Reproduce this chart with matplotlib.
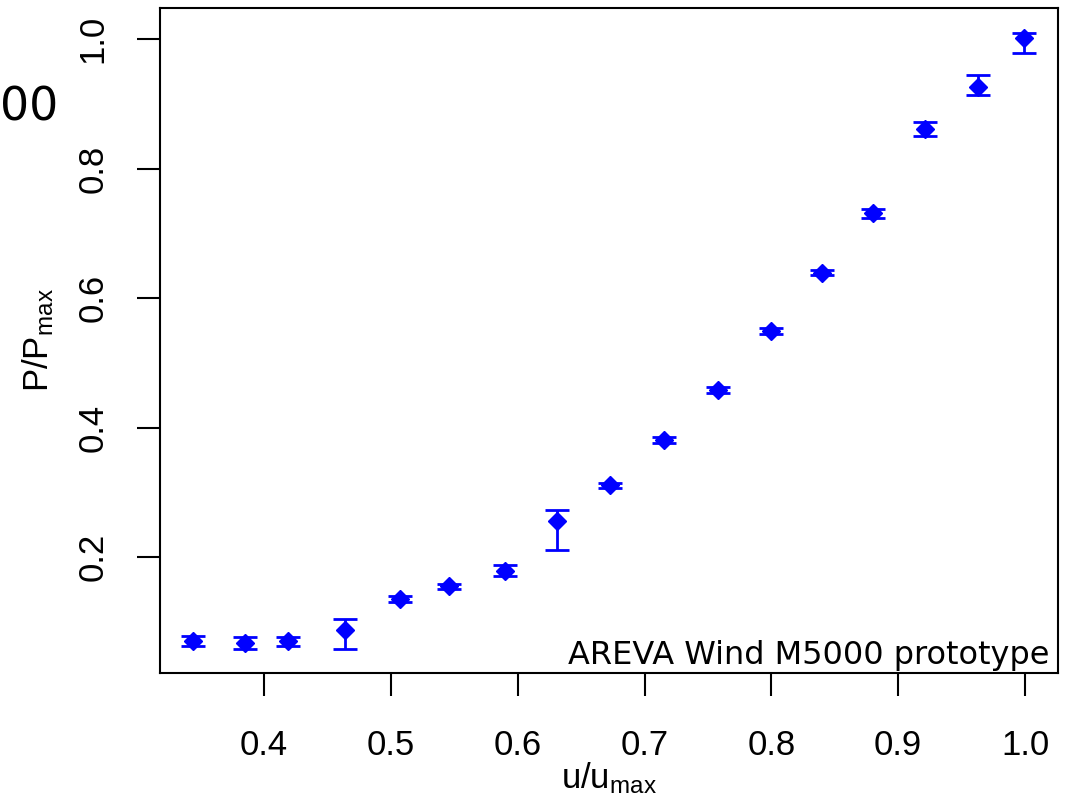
import matplotlib
matplotlib.use("Agg")
import matplotlib.pyplot as plt
import numpy as np

# Data
u_ratio = [0.344, 0.385, 0.419, 0.464, 0.507, 0.546, 0.590, 0.631, 0.673,
           0.715, 0.758, 0.800, 0.840, 0.880, 0.921, 0.963, 0.999]
p_ratio = [0.070, 0.067, 0.070, 0.087, 0.135, 0.155, 0.178, 0.256, 0.311,
           0.381, 0.458, 0.549, 0.639, 0.731, 0.861, 0.926, 1.002]
err_low = [0.008, 0.009, 0.007, 0.029, 0.004, 0.004, 0.008, 0.045, 0.004,
           0.005, 0.004, 0.004, 0.004, 0.007, 0.011, 0.012, 0.024]
err_high = [0.008, 0.009, 0.007, 0.017, 0.004, 0.004, 0.009, 0.017, 0.004,
            0.005, 0.004, 0.004, 0.004, 0.007, 0.011, 0.019, 0.007]
x_ticks = [0.4, 0.5, 0.6, 0.7, 0.8, 0.9, 1.0]
y_ticks = [0.2, 0.4, 0.6, 0.8, 1.0]

plt.rcParams['mathtext.fontset'] = 'custom'
plt.rcParams['mathtext.rm'] = 'Liberation Sans'
plt.rcParams['mathtext.it'] = 'Liberation Sans'

fig = plt.figure(figsize=(10.7, 8.08), dpi=100)
ax = fig.add_axes([160/1070, 1 - 673/808, (1058-160)/1070, (673-8)/808])

ax.errorbar(u_ratio, p_ratio, yerr=[err_low, err_high], fmt='D', color='#0000ff',
            markersize=9, ecolor='#0000ff', elinewidth=2, capsize=8.5, capthick=2)

ax.set_xlim(0.318, 1.026)
ax.set_ylim(0.0208, 1.048)
ax.set_xticks(x_ticks)
ax.set_xticklabels([f"{v:.1f}" for v in x_ticks])
ax.set_yticks(y_ticks)
ax.set_yticklabels([f"{v:.1f}" for v in y_ticks], rotation=90, va='center')

for s in ax.spines.values():
    s.set_linewidth(1.5)
    s.set_color('black')

ax.tick_params(axis='both', length=16.5, width=1.5, labelsize=25,
               colors='black')
ax.tick_params(axis='x', pad=24)
ax.tick_params(axis='y', pad=20)
for lab in ax.get_xticklabels() + ax.get_yticklabels():
    lab.set_fontfamily('Liberation Sans')

ax.text(0.991, 0.0135, 'AREVA Wind M5000 prototype', transform=ax.transAxes,
        ha='right', va='baseline', fontsize=23, family='DejaVu Sans')

fig.text(609/1070, 1 - 778/808, r'$\mathrm{u/u_{max}}$', ha='center', va='center',
         fontsize=25)
fig.text(38/1070, 1 - 340/808, r'$\mathrm{P/P_{max}}$', ha='center', va='center',
         fontsize=25, rotation=90)

fig.text(58/1070, 1 - 108/808, '00', ha='right', va='center', fontsize=33,
         family='DejaVu Sans')

fig.savefig('out.png', dpi=100)
